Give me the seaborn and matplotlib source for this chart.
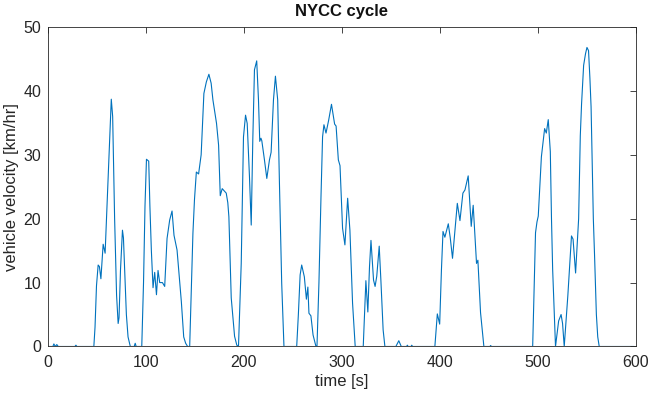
import numpy as np
import pandas as pd
import matplotlib
matplotlib.use("Agg")
import matplotlib.pyplot as plt
import seaborn as sns

# NYCC drive cycle: time [s] and vehicle velocity [km/hr]
time_s = [
    0, 5, 6, 7.5, 9, 10.5, 27.5, 28.5, 29.5, 46.8, 48, 49.5, 51.2, 52.5, 54, 56.3,
    58.3, 64.6, 66, 68, 70, 71.6, 72.5, 74, 76, 77, 78.5, 80, 81.7, 84, 88, 89,
    90, 95.7, 97.5, 99, 100.5, 102.8, 104, 105.5, 107.2, 108.9, 110.7, 112.3, 114,
    116.8, 119.1, 121.5, 124.2, 126.6, 128.6, 131.7, 136.1, 138.5, 140.5, 142.5,
    144.6, 147.9, 149.5, 151.4, 153.7, 156.3, 159.1, 161.6, 164.2, 166.5, 168.3,
    172, 174.1, 175.8, 177.8, 181.9, 183.5, 184.6, 187, 190.4, 192.7, 194.4,
    197.2, 199.5, 201.6, 203.3, 205.6, 207.4, 209, 210.7, 213, 214.8, 216.1,
    217.3, 218.2, 220.9, 223.3, 226, 227.7, 230.1, 232.1, 234.4, 236.2, 238.5,
    240.8, 253.8, 255.5, 257.3, 258.9, 261.6, 263.7, 265.2, 266.3, 268.3, 270.5,
    273.3, 274.5, 276.5, 278.6, 280.2, 281.6, 283.7, 286.4, 289.3, 292.5, 294,
    296.3, 298, 300.6, 303, 305.8, 308.1, 310.8, 313.5, 321.7, 324.4, 326.4,
    328.1, 329.6, 332.2, 333.8, 335.5, 338, 339.7, 342, 343.8, 355, 358, 360.5,
    366, 366.7, 367.5, 370.5, 371.2, 372, 394.8, 397.3, 399.7, 401.5, 403.1, 405,
    408.5, 410.5, 412.8, 417.7, 420.4, 423.4, 425.5, 428.8, 431.9, 433.9, 437.3,
    438.7, 441.4, 444.8, 451, 451.7, 452.5, 494.6, 497.5, 499, 500.3, 503.5,
    506.8, 508.5, 510.5, 512.6, 513.8, 515, 517.9, 521.1, 523.6, 525.1, 526.8,
    530.5, 534.2, 535.8, 538.4, 541.5, 543.2, 544.5, 546.6, 548.5, 550, 551.6,
    553, 554.2, 556.5, 557.8, 559.6, 561, 562.5, 598,
]
velocity_kmh = [
    0, 0, 0.4, 0, 0.3, 0, 0, 0.2, 0, 0, 3.0, 9.5, 12.75, 12.5, 10.6, 16.0,
    14.6, 38.7, 36, 20, 8, 3.6, 4.5, 12, 18.2, 17, 11, 5, 1.5, 0, 0, 0.5,
    0, 0, 10, 22, 29.3, 29.0, 22, 15, 9.2, 11.6, 8.1, 11.9, 10.0,
    10.0, 9.4, 16.9, 19.8, 21.2, 17.4, 15.1, 7.0, 1.5, 0.5, 0,
    0, 17.7, 23, 27.3, 27.0, 30.0, 39.6, 41.4, 42.6, 41.2, 38.6,
    34.9, 31.5, 23.6, 24.7, 24.0, 22.5, 20.3, 7.6, 1.6, 0.2, 0,
    13.0, 32.8, 36.2, 34.9, 26.6, 19.0, 32.3, 43.3, 44.7, 38.6, 32.1,
    32.6, 32.2, 29.2, 26.3, 29.2, 30.4, 38.6, 42.3, 38.6, 25.5, 9.9,
    0, 0, 5, 11.2, 12.75, 10.9, 7.4, 9.3, 5.2, 4.8, 1.8,
    0.1, 0, 10, 23.5, 32.8, 34.7, 33.4, 35.4, 37.9, 34.8, 34.5,
    29.2, 28.3, 18.5, 15.9, 23.2, 18.2, 6.8, 0, 0, 10.3, 5.4,
    12.5, 16.6, 10.4, 9.4, 11, 15.7, 10.4, 2.6, 0, 0, 0.9, 0,
    0, 0.2, 0, 0, 0.2, 0, 0, 5.1, 3.5, 12, 18.0, 17.1,
    19.2, 17, 13.8, 22.4, 19.7, 24.0, 24.5, 26.7, 18.8, 22.1, 13.0,
    13.5, 5.3, 0, 0, 0.15, 0, 0, 17.8, 19.5, 20.4, 29.7,
    34.1, 33.4, 35.5, 30.5, 20, 12, 0, 4.0, 5.0, 3.6, 0,
    8.0, 17.3, 16.8, 11.5, 20, 33, 38, 44, 45.8, 46.8, 46.3,
    42, 37.5, 20, 14, 5, 1.5, 0, 0,
]

x_ticks = [0, 100, 200, 300, 400, 500, 600]
y_ticks = [0, 10, 20, 30, 40, 50]

df = pd.DataFrame({"time": time_s, "velocity": velocity_kmh})

sns.set_theme(style="white")
plt.rcParams["font.family"] = ["Liberation Sans", "DejaVu Sans"]
plt.rcParams["axes.edgecolor"] = "#262626"
plt.rcParams["axes.linewidth"] = 0.6

fig = plt.figure(figsize=(6.51, 3.94), dpi=100)
ax = fig.add_axes([0.0737, 0.1206, 0.9032, 0.8109])

sns.lineplot(data=df, x="time", y="velocity", ax=ax, color="#0072BD",
             linewidth=0.8, estimator=None, sort=False)

ax.set_xlim(0, 600)
ax.set_ylim(0, 50)
ax.set_xticks(x_ticks)
ax.set_yticks(y_ticks)
ax.tick_params(direction="in", top=True, right=True, length=4.5, width=0.6,
               colors="#262626", labelsize=11.5)
ax.tick_params(axis="x", pad=6)
ax.tick_params(axis="y", pad=5)
for s in ax.spines.values():
    s.set_visible(True)
    s.set_color("#262626")
    s.set_linewidth(0.6)

ax.set_xlabel("time [s]", fontsize=12, color="#262626", labelpad=3)
ax.set_ylabel("vehicle velocity [km/hr]", fontsize=12, color="#262626", labelpad=3)
ax.set_title("NYCC cycle", fontsize=12, fontweight="bold", color="#111111", pad=8)

fig.savefig("out.png", dpi=100)
